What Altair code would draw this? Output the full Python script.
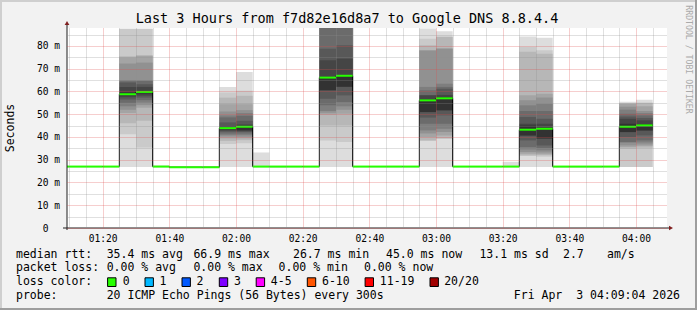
import altair as alt
import pandas as pd

# ---------------- data ----------------
STEPS = ["01:05", "01:10", "01:15", "01:20", "01:25", "01:30", "01:35", "01:40", "01:45", "01:50",
         "01:55", "02:00", "02:05", "02:10", "02:15", "02:20", "02:25", "02:30", "02:35", "02:40",
         "02:45", "02:50", "02:55", "03:00", "03:05", "03:10", "03:15", "03:20", "03:25", "03:30",
         "03:35", "03:40", "03:45", "03:50", "03:55", "04:00"]
MEDIAN = [27.0, 27.0, 27.0, 27.0, 58.8, 59.8, 27.0, 26.7, 26.7, 26.7,
          43.9, 44.5, 27.0, 27.0, 27.0, 27.0, 66.1, 66.9, 27.0, 27.0,
          27.0, 27.0, 56.1, 57.0, 27.0, 27.0, 27.0, 27.0, 43.2, 43.6,
          27.0, 27.0, 27.0, 27.0, 44.5, 45.1]

# steps where the 20 pings hardly spread: (min, max)
FLAT_RANGE = {
    "01:05": (26.8, 27.2), "01:10": (26.8, 27.2), "01:15": (26.8, 27.2), "01:20": (26.8, 27.2),
    "01:35": (26.8, 27.5), "01:40": (26.4, 27.2), "01:45": (26.4, 27.2), "01:50": (26.4, 27.1),
    "02:05": (26.8, 33.2), "02:10": (26.6, 27.3), "02:15": (26.8, 27.2), "02:20": (26.8, 27.2),
    "02:35": (26.8, 27.2), "02:40": (26.8, 27.2), "02:45": (26.8, 27.3), "02:50": (26.8, 27.2),
    "03:05": (26.8, 27.2), "03:10": (26.8, 27.2), "03:15": (26.8, 27.2), "03:20": (26.8, 29.1),
    "03:35": (26.6, 27.2), "03:40": (26.6, 27.2), "03:45": (26.6, 27.2), "03:50": (26.8, 27.2),
}

# sorted ping times (ms) of the 20 pings for the smoky steps
SMOKE = {
    "01:25": [26.8, 41.2, 46.0, 50.5, 52.0, 53.5, 55.0, 56.5, 57.5, 58.3, 59.5, 62.0, 63.9, 64.5, 65.0, 72.3, 74.9, 75.5, 87.5, 87.7],
    "01:30": [26.8, 35.4, 47.1, 52.9, 54.0, 55.1, 56.2, 57.3, 58.2, 59.1, 60.2, 62.0, 63.2, 64.6, 65.0, 72.7, 75.6, 76.0, 87.5, 87.7],
    "01:55": [26.8, 36.9, 38.3, 39.4, 40.2, 40.8, 41.5, 42.3, 42.8, 43.3, 44.2, 44.8, 46.4, 48.6, 49.5, 51.2, 54.4, 57.3, 59.5, 62.0],
    "02:00": [26.8, 37.2, 38.6, 39.4, 40.1, 40.8, 41.5, 42.2, 42.6, 43.0, 44.9, 45.5, 47.1, 49.3, 50.5, 51.8, 54.4, 58.1, 60.3, 68.6],
    "02:25": [26.8, 38.5, 45.1, 49.9, 50.7, 51.4, 53.9, 56.8, 60.5, 60.6, 66.4, 73.7, 78.8, 93.0, 98.0, 104.0, 110.0, 118.0, 128.0, 145.0],
    "02:30": [26.8, 37.8, 45.1, 50.2, 52.0, 53.5, 55.4, 58.3, 62.0, 62.1, 67.1, 74.4, 80.3, 95.0, 100.0, 105.0, 112.0, 120.0, 130.0, 150.0],
    "02:55": [26.8, 38.4, 38.5, 40.0, 41.5, 42.9, 45.8, 48.5, 50.9, 51.0, 56.4, 58.3, 58.35, 60.5, 62.0, 78.0, 78.1, 80.3, 83.2, 87.7],
    "03:00": [26.8, 39.3, 39.35, 40.7, 42.2, 43.6, 45.8, 49.5, 51.7, 51.75, 57.5, 58.5, 61.2, 62.0, 63.4, 78.8, 79.0, 84.0, 84.1, 86.5],
    "03:25": [26.8, 31.8, 31.9, 32.6, 33.4, 34.5, 35.6, 38.5, 40.6, 40.7, 45.0, 45.8, 48.8, 51.4, 53.9, 56.1, 58.3, 77.5, 79.6, 84.2],
    "03:30": [26.8, 31.3, 32.0, 32.4, 33.2, 34.1, 35.2, 36.3, 39.3, 39.35, 44.1, 45.8, 48.0, 51.4, 54.6, 57.3, 59.0, 76.6, 78.1, 83.6],
    "03:55": [26.8, 26.85, 34.9, 35.6, 36.3, 37.5, 37.8, 40.0, 42.1, 42.2, 45.8, 48.0, 49.0, 50.2, 52.0, 53.3, 54.6, 54.7, 54.8, 55.5],
    "04:00": [26.8, 26.85, 35.3, 36.0, 36.7, 37.6, 38.5, 40.7, 42.8, 42.9, 45.5, 47.3, 48.4, 49.5, 50.5, 51.4, 53.5, 54.9, 55.2, 56.4],
}

TITLE = "Last 3 Hours from f7d82e16d8a7 to Google DNS 8.8.4.4"
Y_TITLE = "Seconds"
WATERMARK = "RRDTOOL / TOBI OETIKER"
LEGEND_ROW1 = ["median rtt:", "35.4 ms avg", "66.9 ms max", "26.7 ms min", "45.0 ms now", "13.1 ms sd", "2.7", "am/s"]
LEGEND_ROW2 = ["packet loss:", "0.00 % avg", "0.00 % max", "0.00 % min", "0.00 % now"]
LEGEND_ROW3 = ["loss color:", "0", "1", "2", "3", "4-5", "6-10", "11-19", "20/20"]
LOSS_COLORS = ["#26ff00", "#00b8ff", "#0059ff", "#7e00ff", "#ff00ff", "#ff5500", "#ff0000", "#a10000"]
LEGEND_ROW4 = ["probe:", "20 ICMP Echo Pings (56 Bytes) every 300s"]
DATE_TEXT = "Fri Apr\u00a0\u00a03 04:09:04 2026"

# ---------------- layout (pixels, relative to plot origin) ----------------
W, H = 600, 200
PAD_L, PAD_T = 67, 28
ROW_Y = [226.7, 240.3, 254.3, 268.3]
ROW1_X = [16, 106.7, 193.4, 293, 386, 479.4, 563, 607]
ROW2_X = [16, 106.7, 193.4, 278.6, 364]
ROW3_X = [16, 122.7, 159.6, 196.5, 233.9, 270.8, 322, 379.8, 444.2]
BOX_X = [107.6, 145, 182, 219.3, 256.2, 307.3, 365.1, 430]
ROW4_X = [16, 106.7]
FONT = "DejaVu Sans Mono"


def to_min(s):
    h, m = s.split(":")
    return int(h) * 60 + int(m)


# smoke rectangles
rows = []
for i, s in enumerate(STEPS):
    t0 = to_min(s)
    if s in SMOKE:
        cp = SMOKE[s]
        for k in range(1, 11):
            g = int(190 / 10 * (10 - k)) + 50
            rows.append({"order": i * 100 + k, "t0": t0, "t1": t0 + 5,
                         "lo": cp[k - 1], "hi": cp[20 - k], "col": "#%02x%02x%02x" % (g, g, g)})
    else:
        lo, hi = FLAT_RANGE[s]
        rows.append({"order": i * 100 + 1, "t0": t0, "t1": t0 + 5, "lo": lo, "hi": hi, "col": "#dddddd"})
smoke_df = pd.DataFrame(rows)

med_rows = [{"t0": to_min(s), "t1": to_min(s) + 5, "m": MEDIAN[i]} for i, s in enumerate(STEPS)]
med_df = pd.DataFrame(med_rows)
line_df = pd.concat([med_df[["t0", "m"]],
                     pd.DataFrame([{"t0": to_min(STEPS[-1]) + 5, "m": MEDIAN[-1]}])], ignore_index=True)

XDOM = [69.3, 249.3]
YDOM = [0, 87.9]
xs = alt.Scale(domain=XDOM, nice=False, zero=False)
ys = alt.Scale(domain=YDOM, nice=False, zero=False)

x_label = ("datum.value % 20 === 0 ? ((floor(datum.value/60) < 10 ? '0' : '') + floor(datum.value/60) + ':' + "
           "(datum.value % 60 < 10 ? '0' : '') + (datum.value % 60)) : ''")
y_label = "datum.value % 10 === 0 ? (datum.value === 0 ? '0' : datum.value + ' m') : ''"


def x_axis():
    return alt.Axis(values=list(range(70, 250, 5)), title=None, grid=True,
                    gridColor={"condition": {"test": "datum.value % 20 === 0", "value": "rgba(222,79,79,0.55)"},
                               "value": "rgba(143,143,143,0.55)"},
                    gridDash=[1, 1], gridWidth=1, ticks=False, tickSize=0, domain=False,
                    labelExpr=x_label, labelPadding=10, labelBaseline="middle", labelOverlap=False,
                    labelFlush=False, labelFont=FONT, labelFontSize=9.6, labelColor="#000000", zindex=1)


def y_axis():
    return alt.Axis(values=list(range(0, 90, 5)), title=None, grid=True,
                    gridColor={"condition": {"test": "datum.value % 10 === 0", "value": "rgba(222,79,79,0.55)"},
                               "value": "rgba(143,143,143,0.55)"},
                    gridDash=[1, 1], gridWidth=1, ticks=False, tickSize=0, domain=False,
                    labelExpr=y_label,
                    labelPadding={"condition": {"test": "datum.value === 0", "value": 19.0}, "value": 7.4},
                    labelBaseline="middle", labelOverlap=False, labelFlush=False,
                    labelFont=FONT, labelFontSize=9.6, labelColor="#000000", zindex=1)


smoke = alt.Chart(smoke_df).mark_rect(clip=True, stroke=None).encode(
    x=alt.X("t0:Q", scale=xs, axis=x_axis()),
    x2="t1:Q",
    y=alt.Y("lo:Q", scale=ys, axis=y_axis()),
    y2="hi:Q",
    color=alt.Color("col:N", scale=None),
    order=alt.Order("order:Q"),
)

median_line = alt.Chart(line_df).mark_line(interpolate="step-after", color="#000000", strokeWidth=1, clip=True).encode(
    x=alt.X("t0:Q", scale=xs, axis=x_axis()),
    y=alt.Y("m:Q", scale=ys, axis=y_axis()),
)

median_green = alt.Chart(med_df).mark_rule(color="#26ff00", strokeWidth=2, clip=True).encode(
    x=alt.X("t0:Q", scale=xs, axis=x_axis()),
    x2="t1:Q",
    y=alt.Y("m:Q", scale=ys, axis=y_axis()),
)

one = pd.DataFrame({"a": [0]})
layers = [smoke, median_line, median_green]


def text_layer(txt, x, y, size=11.5, align="left", angle=0, color="#000000"):
    return alt.Chart(one).mark_text(align=align, baseline="middle", font=FONT, fontSize=size,
                                    angle=angle, color=color).encode(
        x=alt.value(x), y=alt.value(y), text=alt.value(txt))


def rect_layer(x, x2, y, y2, fill, stroke=None):
    kw = {"stroke": stroke, "strokeWidth": 1} if stroke else {}
    return alt.Chart(one).mark_rect(color=fill, **kw).encode(
        x=alt.value(x), x2=alt.value(x2), y=alt.value(y), y2=alt.value(y2))


# axis lines and arrows
layers.append(alt.Chart(one).mark_rule(color="#1f1f1f", strokeWidth=1).encode(
    x=alt.value(0), y=alt.value(-4), y2=alt.value(H + 2)))
layers.append(alt.Chart(one).mark_rule(color="#1f1f1f", strokeWidth=1).encode(
    x=alt.value(-4), x2=alt.value(W + 3), y=alt.value(H)))
layers.append(alt.Chart(one).mark_point(shape="triangle-up", filled=True, size=22, color="#801f1f", opacity=1).encode(
    x=alt.value(0), y=alt.value(-5)))
layers.append(alt.Chart(one).mark_point(shape="triangle-right", filled=True, size=22, color="#801f1f", opacity=1).encode(
    x=alt.value(W + 4), y=alt.value(H)))

# legend texts
for row, xs_, y in ((LEGEND_ROW1, ROW1_X, ROW_Y[0]), (LEGEND_ROW2, ROW2_X, ROW_Y[1]),
                    (LEGEND_ROW3, ROW3_X, ROW_Y[2]), (LEGEND_ROW4, ROW4_X, ROW_Y[3])):
    for t, x in zip(row, xs_):
        layers.append(text_layer(t, x - PAD_L, y))
for c, bx in zip(LOSS_COLORS, BOX_X):
    layers.append(rect_layer(bx - PAD_L, bx - PAD_L + 8.4, ROW_Y[2] - 4.5, ROW_Y[2] + 4.2, c, "#000000"))
layers.append(text_layer(DATE_TEXT, 680 - PAD_L, ROW_Y[3], align="right"))
layers.append(text_layer(TITLE, 347 - PAD_L, 18.7 - PAD_T, size=13.5, align="center"))
layers.append(text_layer(Y_TITLE, 11 - PAD_L, 128 - PAD_T, align="center", angle=270))
layers.append(text_layer(WATERMARK, 687.5 - PAD_L, 59.5 - PAD_T, size=8.2, align="center", angle=90, color="#aaaaaa"))

# frame shading
layers.append(rect_layer(-PAD_L, 697 - PAD_L, -PAD_T, -PAD_T + 2, "#cfcfcf"))
layers.append(rect_layer(-PAD_L, -PAD_L + 2, -PAD_T, 310 - PAD_T, "#cfcfcf"))
layers.append(rect_layer(-PAD_L, 697 - PAD_L, 308 - PAD_T, 310 - PAD_T, "#9e9e9e"))
layers.append(rect_layer(695 - PAD_L, 697 - PAD_L, -PAD_T, 310 - PAD_T, "#9e9e9e"))

chart = alt.layer(*layers).properties(
    width=W, height=H,
    padding={"left": PAD_L, "top": PAD_T, "right": 697 - PAD_L - W, "bottom": 310 - PAD_T - H},
    autosize=alt.AutoSizeParams(type="none"),
    background="#f2f2f2",
).configure_view(fill="#ffffff", stroke=None)

chart.save("out.html", embed_options={"renderer": "svg", "actions": False})
